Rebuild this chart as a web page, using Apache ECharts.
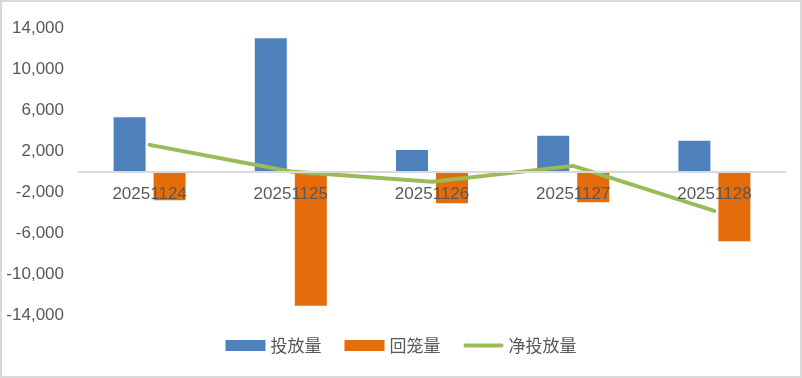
<!DOCTYPE html>
<html>
<head>
<meta charset="utf-8">
<script src="https://cdn.jsdelivr.net/npm/echarts@6/dist/echarts.min.js"></script>
<style>
  html, body { margin: 0; padding: 0; background: #fff; }
  #echart { width: 802px; height: 378px; box-sizing: border-box; border: 2px solid #d9d9d9; }
</style>
</head>
<body>
<div id="echart"></div>
<script>
// 日期
var categories = ['20251124', '20251125', '20251126', '20251127', '20251128'];
// 投放量
var putValues = [5300, 13000, 2100, 3500, 3000];
// 回笼量
var backValues = [-2800, -13100, -3100, -3000, -6800];
// 净投放量
var netValues = [2600, 0, -1000, 550, -3850];
// y 轴显示的刻度
var yTicks = [-14000, -10000, -6000, -2000, 2000, 6000, 10000, 14000];

var myChart = echarts.init(document.getElementById('echart'));

var textColor = '#595959';
var gridTop = 26, gridBottom = 61, chartH = 374;
// x 轴放在 0 刻度处 (y 轴对称, 在绘图区中间)
var zeroOffset = -((chartH - gridTop - gridBottom) / 2);

var option = {
    animation: false,
    grid: {left: 77, right: 15, top: gridTop, bottom: gridBottom},
    legend: {
        bottom: 17,
        left: 'center',
        itemWidth: 40,
        itemHeight: 11,
        itemGap: 23,
        textStyle: {color: textColor, fontSize: 17, fontFamily: 'Noto Sans CJK SC'},
        data: [
            {name: '投放量', icon: 'rect'},
            {name: '回笼量', icon: 'rect'},
            {name: '净投放量', icon: 'path://M2,0 H38 A2,2 0 0 1 38,4 H2 A2,2 0 0 1 2,0 Z'}
        ]
    },
    xAxis: {
        type: 'category',
        data: categories,
        z: 10,
        offset: zeroOffset,
        axisLine: {onZero: false, lineStyle: {color: '#d9d9d9', width: 2}},
        axisTick: {show: false},
        axisLabel: {
            color: textColor,
            fontSize: 17,
            fontFamily: 'Liberation Sans',
            margin: 14
        }
    },
    yAxis: {
        type: 'value',
        min: -14000,
        max: 14000,
        interval: 2000,
        axisLine: {show: false},
        axisTick: {show: false},
        splitLine: {show: false},
        axisLabel: {
            color: textColor,
            fontSize: 17,
            fontFamily: 'Liberation Sans',
            margin: 15,
            formatter: function (v) {
                return yTicks.indexOf(v) >= 0 ? v.toLocaleString('en-US') : '';
            }
        }
    },
    series: [
        {
            name: '投放量',
            type: 'bar',
            data: putValues,
            barWidth: 32,
            barGap: '25%',
            itemStyle: {color: '#4f81bd'}
        },
        {
            name: '回笼量',
            type: 'bar',
            data: backValues,
            barWidth: 32,
            itemStyle: {color: '#e46c0a'}
        },
        {
            name: '净投放量',
            type: 'line',
            data: netValues,
            symbol: 'none',
            z: 5,
            itemStyle: {color: '#9bbb59'},
            lineStyle: {color: '#9bbb59', width: 4, cap: 'round', join: 'round'}
        }
    ]
};

myChart.setOption(option);
</script>
</body>
</html>
